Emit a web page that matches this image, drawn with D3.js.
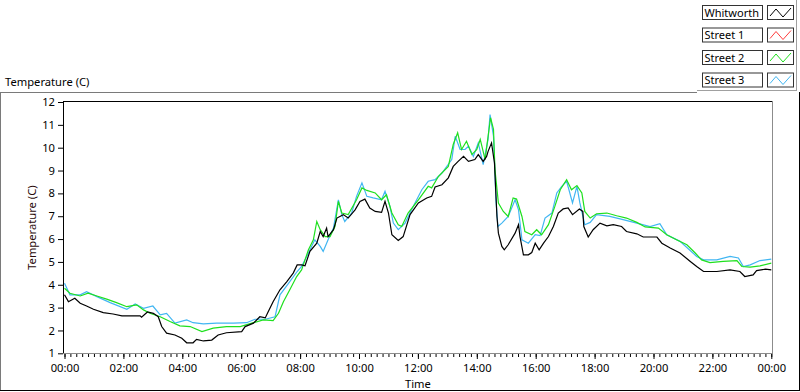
<!DOCTYPE html>
<html>
<head>
<meta charset="utf-8">
<script src="https://cdn.jsdelivr.net/npm/d3@7"></script>
<style>
  body { margin: 0; background: #fff; }
  svg text { font-family: "Noto Sans", sans-serif; }
</style>
</head>
<body>
<svg id="chart" width="800" height="392"></svg>
<script>
// legend / series
const seriesNames  = ["Whitworth", "Street 1", "Street 2", "Street 3"];
const seriesColors = ["#000000", "#ff3c3c", "#1ee01e", "#41b6f2"];

// minutes after midnight + temperature (C)
const whitworthMin  = [0,8,21,32,45,59,79,99,117,154,157,169,181,191,198,208,225,239,249,262,269,283,300,313,330,361,368,385,398,409,415,425,439,453,466,474,483,490,500,514,521,527,534,537,548,555,568,578,592,602,612,622,633,646,653,660,667,680,690,704,721,738,748,755,769,782,792,802,813,823,836,843,853,860,863,870,876,881,884,891,896,904,918,925,928,935,945,952,959,967,976,986,996,1006,1016,1026,1035,1049,1056,1058,1067,1077,1091,1105,1118,1135,1145,1166,1179,1207,1217,1234,1254,1275,1288,1302,1329,1356,1376,1386,1403,1410,1428,1440];
const whitworthTemp = [3.56,3.26,3.41,3.19,3.07,2.93,2.78,2.72,2.64,2.64,2.58,2.81,2.75,2.60,2.17,1.88,1.80,1.66,1.46,1.46,1.61,1.54,1.58,1.80,1.90,1.95,2.17,2.32,2.60,2.55,2.82,3.26,3.78,4.14,4.51,4.87,4.87,4.83,5.46,5.82,6.33,6.11,6.48,6.11,6.41,6.92,7.07,6.92,7.28,7.65,7.75,7.36,7.21,7.17,7.65,7.14,6.19,5.94,6.11,7.07,7.58,7.80,7.87,8.28,8.38,8.68,9.18,9.40,9.62,9.40,9.48,9.70,9.40,9.62,9.84,10.21,9.33,7.00,6.26,5.68,5.53,5.75,6.26,6.63,6.11,5.31,5.31,5.41,5.82,5.53,5.82,6.11,6.55,7.14,7.32,7.36,7.07,7.32,7.21,6.55,6.09,6.41,6.70,6.58,6.63,6.55,6.33,6.23,6.09,6.09,5.82,5.61,5.39,5.02,4.80,4.58,4.58,4.65,4.58,4.36,4.43,4.62,4.68,4.65];

// Street 1 has no visible trace
const street1Min  = [];
const street1Temp = [];

const street2Min  = [0,11,32,48,66,86,106,127,147,161,174,195,215,235,256,280,303,330,358,385,405,425,436,446,459,473,483,490,497,507,514,521,531,541,551,558,565,578,595,606,616,633,646,656,667,680,687,700,721,741,748,762,782,792,801,809,819,830,840,847,857,863,868,874,877,884,894,904,914,921,932,938,952,962,972,986,999,1010,1023,1033,1044,1054,1060,1071,1084,1105,1125,1145,1166,1183,1210,1227,1247,1268,1285,1298,1315,1342,1370,1380,1397,1417,1440];
const street2Temp = [3.85,3.63,3.51,3.63,3.51,3.37,3.22,3.04,3.12,2.90,2.75,2.60,2.39,2.20,2.17,1.95,2.10,2.17,2.17,2.34,2.46,2.43,2.75,3.26,3.78,4.36,4.65,5.09,5.53,5.97,6.77,6.41,6.11,6.11,6.55,7.65,7.14,7.07,7.72,8.24,8.13,8.02,7.72,7.94,7.14,6.63,6.55,7.14,7.72,8.31,8.24,8.75,9.18,10.14,10.65,9.92,10.28,9.70,9.92,10.36,9.48,10.50,11.31,10.80,9.04,7.58,7.21,6.99,7.80,7.75,6.99,6.33,6.19,6.41,6.19,6.63,7.43,8.16,8.60,8.16,8.34,8.02,7.21,6.92,7.11,7.14,7.02,6.92,6.73,6.53,6.48,6.19,5.97,5.75,5.39,5.09,4.97,5.02,5.06,4.80,4.77,4.83,4.95];

const street3Min  = [0,11,32,45,66,93,127,144,161,180,195,208,225,249,262,283,310,344,371,388,409,429,439,459,474,483,497,510,521,527,537,548,558,565,571,585,595,606,616,629,646,653,663,670,680,694,707,728,741,755,769,789,796,806,816,823,833,843,853,863,867,874,879,883,891,904,918,925,932,945,959,969,979,993,1003,1013,1023,1035,1044,1050,1060,1071,1084,1111,1138,1166,1193,1213,1227,1254,1288,1302,1329,1356,1373,1383,1397,1417,1440];
const street3Temp = [4.07,3.56,3.56,3.70,3.48,3.22,2.93,3.16,2.97,3.07,2.68,2.75,2.32,2.46,2.34,2.29,2.32,2.32,2.34,2.49,2.49,2.60,3.56,4.14,4.58,4.80,5.39,5.97,5.68,5.46,5.97,6.48,7.72,7.07,6.77,7.14,7.87,8.46,7.87,7.80,7.72,8.09,7.43,6.70,6.41,6.70,7.28,8.16,8.53,8.60,8.89,9.48,10.50,9.92,9.92,10.06,9.62,10.21,9.26,10.36,11.45,10.50,7.72,6.55,6.70,6.99,7.72,7.28,5.97,5.82,6.19,6.15,6.92,7.14,8.02,8.31,8.53,7.58,8.31,7.58,6.63,6.73,7.07,6.99,6.85,6.70,6.55,6.67,6.19,5.90,5.24,5.09,5.09,5.24,5.17,4.80,4.87,5.06,5.12];

const yTickValues = [1,2,3,4,5,6,7,8,9,10,11,12];

const svg = d3.select("#chart");
const day0 = new Date(2000, 0, 1);
const day1 = d3.timeDay.offset(day0, 1);

const plotLeft = 64.5, plotRight = 771.3, plotTop = 102, plotBottom = 353.3;
const fs = 11.2;

let x = d3.scaleTime().domain([day0, day1]).range([plotLeft, plotRight]);
let y = d3.scaleLinear().domain([1, 12]).range([plotBottom, plotTop]);

// outer panel
svg.append("line").attr("x1", 0).attr("x2", 697).attr("y1", 92.5).attr("y2", 92.5).attr("stroke", "#7a7a7a");
svg.append("line").attr("x1", 0.5).attr("x2", 0.5).attr("y1", 92).attr("y2", 391).attr("stroke", "#7a7a7a");
svg.append("line").attr("x1", 799.5).attr("x2", 799.5).attr("y1", 92).attr("y2", 391).attr("stroke", "#000");
svg.append("line").attr("x1", 0).attr("x2", 800).attr("y1", 390.5).attr("y2", 390.5).attr("stroke", "#000");

// title top-left
svg.append("text").attr("x", 5).attr("y", 86)
   .attr("font-size", fs).attr("fill", "#000")
   .text("Temperature (C)");

// plot frame
svg.append("line").attr("x1", 63.5).attr("x2", 772).attr("y1", 101.5).attr("y2", 101.5).attr("stroke", "#000");
svg.append("line").attr("x1", 63.5).attr("x2", 63.5).attr("y1", 101).attr("y2", 353.5).attr("stroke", "#000");
svg.append("line").attr("x1", 772.5).attr("x2", 772.5).attr("y1", 101).attr("y2", 354).attr("stroke", "#8c8c8c");
svg.append("line").attr("x1", 63).attr("x2", 773).attr("y1", 353.5).attr("y2", 353.5).attr("stroke", "#8c8c8c");

// x axis: minor every 12 minutes, major every 2 hours
let xMinor = d3.axisBottom(x).ticks(d3.timeMinute.every(12)).tickSize(3).tickFormat("");
svg.append("g").attr("transform", "translate(0," + 354 + ")").call(xMinor)
   .call(g => g.select(".domain").remove())
   .selectAll("line").attr("stroke", "#000");

let xAxis = d3.axisBottom(x).ticks(d3.timeHour.every(2))
              .tickFormat(d3.timeFormat("%H:%M")).tickSize(5).tickPadding(5);
let gx = svg.append("g").attr("transform", "translate(0," + 354 + ")").call(xAxis);
gx.select(".domain").remove();
gx.selectAll("text").attr("font-size", fs).attr("fill", "#000").attr("font-family", "\"Noto Sans\", sans-serif");

svg.append("text").attr("x", (plotLeft + plotRight) / 2).attr("y", 388)
   .attr("text-anchor", "middle").attr("font-size", fs).attr("fill", "#000")
   .text("Time");

// y axis
let yAxis = d3.axisLeft(y).tickValues(yTickValues).tickSize(5).tickPadding(3);
let gy = svg.append("g").attr("transform", "translate(63,0)").call(yAxis);
gy.select(".domain").remove();
gy.selectAll("text").attr("font-size", fs).attr("fill", "#000").attr("font-family", "\"Noto Sans\", sans-serif");

svg.append("text")
   .attr("transform", "translate(36," + (plotTop + plotBottom) / 2 + ") rotate(-90)")
   .attr("text-anchor", "middle").attr("font-size", fs).attr("fill", "#2a0a0a")
   .text("Temperature (C)");

// series lines
let seriesMin  = [whitworthMin, street1Min, street2Min, street3Min];
let seriesTemp = [whitworthTemp, street1Temp, street2Temp, street3Temp];

let line = d3.line()
             .x(d => x(d3.timeMinute.offset(day0, d[0])))
             .y(d => y(d[1]));

let plot = svg.append("g");
[3, 2, 1, 0].forEach(function (i) {
    let pts = d3.zip(seriesMin[i], seriesTemp[i]);
    if (pts.length === 0) return;
    plot.append("path")
        .attr("d", line(pts))
        .attr("fill", "none")
        .attr("stroke", seriesColors[i])
        .attr("stroke-width", 1.2);
});

// legend panel
let lg = svg.append("g");
lg.append("rect").attr("x", 697).attr("y", 0).attr("width", 100).attr("height", 90).attr("fill", "#fff");
lg.append("line").attr("x1", 697).attr("x2", 797).attr("y1", 90.5).attr("y2", 90.5).attr("stroke", "#a0a0a0");
lg.append("line").attr("x1", 796.5).attr("x2", 796.5).attr("y1", 0).attr("y2", 91).attr("stroke", "#a0a0a0");

let item = lg.selectAll("g.item").data(seriesNames).enter()
             .append("g").attr("class", "item")
             .attr("transform", (d, i) => "translate(0," + (5 + i * 22.5) + ")");

item.append("rect").attr("x", 702.5).attr("y", 0.5).attr("width", 60).attr("height", 14)
    .attr("fill", "#fff").attr("stroke", "#333");
item.append("text").attr("x", 704.5).attr("y", 11.5)
    .attr("font-size", 11).attr("fill", "#000")
    .text(d => d);
item.append("rect").attr("x", 767.5).attr("y", 0.5).attr("width", 26).attr("height", 14)
    .attr("fill", "#fff").attr("stroke", "#333");
item.append("path")
    .attr("d", "M770,11 L776,4 L783,12 L791,3")
    .attr("fill", "none")
    .attr("stroke", (d, i) => seriesColors[i]);
</script>
</body>
</html>
